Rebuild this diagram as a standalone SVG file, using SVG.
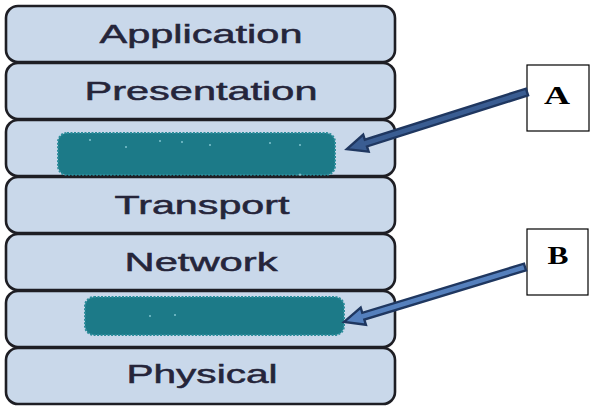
<svg xmlns="http://www.w3.org/2000/svg" xmlns:xlink="http://www.w3.org/1999/xlink" width="596" height="410" viewBox="0 0 596 410">
<style>
.layer{fill:#c9d8ea;stroke:#1e1e24;stroke-width:2.6}
.lt{font-family:"Liberation Sans",Arial,sans-serif;font-size:26px;fill:#25253a;text-anchor:middle;stroke:#25253a;stroke-width:0.5}
.blob{fill:#1c7a88;stroke:#2a8c9a;stroke-width:2;stroke-dasharray:2 1.5}
.dot{fill:#7fc4cf}
.lbox{fill:#ffffff;stroke:#000000;stroke-width:1.2}
.lbl{font-family:"Liberation Serif","Times New Roman",serif;font-size:25px;font-weight:bold;fill:#000;text-anchor:middle}
.arr{stroke:#1f3760;stroke-width:2.4;stroke-linejoin:miter}
.arrA{fill:#3a5d92}
.arrB{fill:#5580bd}
</style>
<defs>
<path id="arrow" d="M0,-3.5 L169,-3.5 L169,-9 L189,0 L169,9 L169,3.5 L0,3.5 Z"/>
</defs>
<rect width="596" height="410" fill="#ffffff"/>
<g id="application"><rect class="layer" x="6" y="6" width="389" height="56" rx="12"/><text class="lt" x="201" y="43" textLength="203" lengthAdjust="spacingAndGlyphs">Application</text></g>
<g id="presentation"><rect class="layer" x="6" y="63" width="389" height="56" rx="12"/><text class="lt" x="201" y="100" textLength="233" lengthAdjust="spacingAndGlyphs">Presentation</text></g>
<g id="session"><rect class="layer" x="6" y="120" width="389" height="56" rx="12"/>
<rect class="blob" x="58" y="133" width="277" height="42" rx="9"/>
<circle class="dot" cx="90" cy="140" r="1"/><circle class="dot" cx="126" cy="147" r="1"/><circle class="dot" cx="160" cy="141" r="1"/><circle class="dot" cx="182" cy="142" r="1"/><circle class="dot" cx="210" cy="145" r="1"/><circle class="dot" cx="270" cy="143" r="1"/><circle class="dot" cx="300" cy="145" r="1"/><circle class="dot" cx="300" cy="175" r="1.5"/>
</g>
<g id="transport"><rect class="layer" x="6" y="177" width="389" height="56" rx="12"/><text class="lt" x="202" y="214" textLength="175" lengthAdjust="spacingAndGlyphs">Transport</text></g>
<g id="network"><rect class="layer" x="6" y="234" width="389" height="56" rx="12"/><text class="lt" x="201" y="271" textLength="153" lengthAdjust="spacingAndGlyphs">Network</text></g>
<g id="datalink"><rect class="layer" x="6" y="291" width="389" height="56" rx="12"/>
<rect class="blob" x="85" y="297" width="259" height="38" rx="9"/>
<circle class="dot" cx="150" cy="316" r="1"/><circle class="dot" cx="175" cy="315" r="1"/>
</g>
<g id="physical"><rect class="layer" x="6" y="348" width="389" height="56" rx="12"/><text class="lt" x="202" y="383" textLength="151" lengthAdjust="spacingAndGlyphs">Physical</text></g>
<g id="labelA"><rect class="lbox" x="527" y="65" width="62" height="66"/><text class="lbl" x="557" y="104" textLength="26" lengthAdjust="spacingAndGlyphs">A</text></g>
<g id="labelB"><rect class="lbox" x="527" y="229" width="61" height="66"/><text class="lbl" x="558" y="264" textLength="21" lengthAdjust="spacingAndGlyphs">B</text></g>
<g id="connectors">
<use xlink:href="#arrow" class="arr arrA" transform="translate(527,92) rotate(162.4)"/>
<use xlink:href="#arrow" class="arr arrB" transform="translate(525,267) rotate(163.1)"/>
</g>
</svg>
